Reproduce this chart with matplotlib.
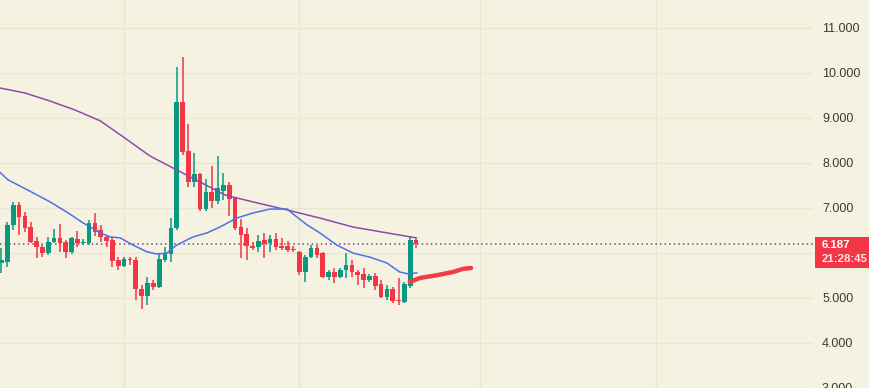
import matplotlib
matplotlib.use("Agg")
import matplotlib.pyplot as plt
from matplotlib.patches import Rectangle
import numpy as np

# ---- data ----
opens = [5.77, 5.79, 6.62, 7.06, 6.82, 6.57, 6.26, 6.13, 5.99, 6.24,
         6.33, 6.24, 6.02, 6.31, 6.22, 6.22, 6.66, 6.51, 6.35, 6.28,
         5.84, 5.70, 5.86, 5.84, 5.19, 5.04, 5.33, 5.24, 5.84, 5.97,
         6.55, 9.35, 8.26, 7.57, 7.75, 6.97, 7.35, 7.15, 7.37, 7.50,
         7.22, 6.57, 6.42, 6.15, 6.13, 6.28, 6.22, 6.31, 6.15, 6.15,
         6.08, 6.02, 5.57, 5.90, 6.10, 5.99, 5.46, 5.57, 5.46, 5.62,
         5.73, 5.57, 5.53, 5.39, 5.48, 5.30, 5.02, 5.19, 4.95, 4.90,
         5.26, 6.28]
closes = [5.84, 6.62, 7.06, 6.79, 6.55, 6.24, 6.13, 5.99, 6.24, 6.33,
          6.22, 6.02, 6.33, 6.22, 6.24, 6.66, 6.46, 6.35, 6.26, 5.82,
          5.70, 5.86, 5.84, 5.19, 5.04, 5.33, 5.24, 5.86, 5.99, 6.55,
          9.35, 8.24, 7.57, 7.75, 6.97, 7.35, 7.15, 7.44, 7.50, 7.19,
          6.55, 6.39, 6.15, 6.10, 6.26, 6.19, 6.31, 6.13, 6.10, 6.06,
          6.06, 5.57, 5.90, 6.10, 5.95, 5.46, 5.57, 5.46, 5.62, 5.73,
          5.57, 5.50, 5.39, 5.48, 5.26, 5.02, 5.19, 4.93, 4.93, 5.30,
          6.28, 6.187]
highs = [6.10, 6.68, 7.13, 7.13, 6.90, 6.68, 6.35, 6.17, 6.35, 6.53,
         6.64, 6.28, 6.35, 6.48, 6.31, 6.73, 6.88, 6.62, 6.39, 6.35,
         5.90, 5.90, 5.90, 5.90, 5.28, 5.46, 5.39, 5.99, 6.13, 6.77,
         10.13, 10.35, 8.87, 8.22, 7.77, 7.64, 7.93, 8.15, 7.77, 7.57,
         7.24, 6.75, 6.55, 6.24, 6.39, 6.44, 6.39, 6.44, 6.33, 6.26,
         6.15, 6.04, 5.95, 6.17, 6.17, 6.02, 5.62, 5.66, 5.66, 5.99,
         5.84, 5.62, 5.66, 5.53, 5.55, 5.39, 5.28, 5.24, 5.44, 5.35,
         6.35, 6.33]
lows = [5.55, 5.68, 6.51, 6.39, 6.46, 6.22, 5.88, 5.90, 5.95, 6.22,
        6.02, 5.88, 5.97, 6.13, 6.17, 6.17, 6.37, 6.24, 6.13, 5.68,
        5.62, 5.68, 5.73, 4.95, 4.75, 4.84, 5.17, 5.22, 5.79, 5.79,
        6.51, 8.17, 7.46, 7.46, 6.93, 6.93, 7.00, 7.08, 7.17, 6.82,
        6.51, 5.88, 5.84, 6.06, 6.02, 5.88, 6.02, 6.06, 6.06, 6.02,
        6.02, 5.50, 5.35, 5.88, 5.88, 5.44, 5.39, 5.33, 5.44, 5.44,
        5.46, 5.28, 5.22, 5.35, 5.17, 4.99, 4.95, 4.88, 4.84, 4.88,
        5.22, 6.10]

ma_long_idx = [-0.3, 4, 8.3, 12.6, 16.9, 21.1, 25.4, 29.7, 34, 38.3, 43, 48.9, 54.5, 60.2, 66, 71]
ma_long_val = [9.66, 9.55, 9.37, 9.17, 8.93, 8.55, 8.15, 7.86, 7.57, 7.28, 7.13, 6.95, 6.77, 6.57, 6.44, 6.33]

ma_short_idx = [-0.3, 1.1, 5.4, 8.3, 11.2, 14, 16.9, 18.6, 20.3, 22.5, 24.9, 26.6, 28.3, 30,
                32.8, 35.2, 37.4, 40.3, 43, 46, 48.9, 50.6, 52.3, 54.5, 57.4, 60.2, 63.1,
                66, 68.2, 69.6, 71.1]
ma_short_val = [7.79, 7.62, 7.33, 7.13, 6.90, 6.66, 6.44, 6.35, 6.33, 6.17, 6.02, 5.97, 5.99, 6.17,
                6.35, 6.44, 6.57, 6.77, 6.88, 6.97, 6.97, 6.79, 6.62, 6.44, 6.17, 5.99, 5.90,
                5.77, 5.57, 5.53, 5.55]

drawn_idx = [69.9, 71.7, 74.6, 77.3, 79.0, 80.4]
drawn_val = [5.35, 5.44, 5.50, 5.57, 5.64, 5.66]

last_price = 6.187
price_label = "6.187"
time_label = "21:28:45"
y_grid = [3, 4, 5, 6, 7, 8, 9, 10, 11]
y_ticks = [3, 4, 5, 7, 8, 9, 10, 11]   # 6.000 is hidden under the price label
month_lines = [21, 51, 82, 112]

# ---- style ----
BG = "#f6f2e2"
GRID = "#ebe6d1"
UP = "#089981"
DOWN = "#f23645"
FONT = ["Liberation Sans", "DejaVu Sans"]

W, H = 870, 388
fig = plt.figure(figsize=(W / 100, H / 100), dpi=100, facecolor=BG)
ax_right = 813
ax = fig.add_axes([0, 0, ax_right / W, 1])
ax.set_facecolor(BG)

x = np.arange(len(opens))
o = np.array(opens); c = np.array(closes)
hi = np.array(highs); lo = np.array(lows)
up = c >= o
cols = np.where(up, UP, DOWN)

# grid
for yv in y_grid:
    ax.axhline(yv, color=GRID, lw=1, zorder=0)
for xv in month_lines:
    ax.axvline(xv, color=GRID, lw=1, zorder=0)

# wicks and bodies
ax.vlines(x, lo, hi, colors=cols, lw=1.1, zorder=3)
bottom = np.minimum(o, c)
height = np.maximum(np.abs(c - o), 0.02)
ax.bar(x, height, bottom=bottom, width=0.8, color=cols, zorder=4, linewidth=0)

# moving averages
ax.plot(ma_long_idx, ma_long_val, color="#8d4bab", lw=1.1, zorder=5)
ax.plot(ma_short_idx, ma_short_val, color="#4d72e3", lw=1.1, zorder=5)

# hand drawn line
ax.plot(drawn_idx, drawn_val, color="#ef3e49", lw=3.2, solid_capstyle="round",
        solid_joinstyle="round", zorder=6)

# last price line
ax.axhline(last_price, color="#6e4a8c", lw=1.1, linestyle=(0, (1, 2)), zorder=2)

x0 = -1.5 / 5.84
x1 = (ax_right - 1.5) / 5.84
ax.set_xlim(x0, x1)
ax.set_ylim(2.993, 11.615)

for s in ax.spines.values():
    s.set_visible(False)
ax.set_xticks([])
ax.yaxis.tick_right()
ax.set_yticks(y_ticks)
ax.set_yticklabels([f"{v:.3f}" for v in y_ticks])
ax.tick_params(axis="y", length=0, pad=6.5, labelsize=9, labelcolor="#3a3a3a")
for lab in ax.get_yticklabels():
    lab.set_horizontalalignment("left")
    lab.set_family(FONT)

# price label box
box_top = 236.5
box_h = 31
fig.patches.append(Rectangle((815 / W, 1 - (box_top + box_h) / H), 55 / W, box_h / H,
                             transform=fig.transFigure, facecolor=DOWN, edgecolor="none", zorder=10))
fig.text(822 / W, 1 - 245.0 / H, price_label, color="white", fontsize=8.2,
         fontweight="bold", va="center", ha="left", zorder=11, family=FONT)
fig.text(822 / W, 1 - 259.5 / H, time_label, color="#ffe6e8", fontsize=8.2,
         fontweight="bold", va="center", ha="left", zorder=11, family=FONT)

fig.savefig("out.png", dpi=100, facecolor=BG)
